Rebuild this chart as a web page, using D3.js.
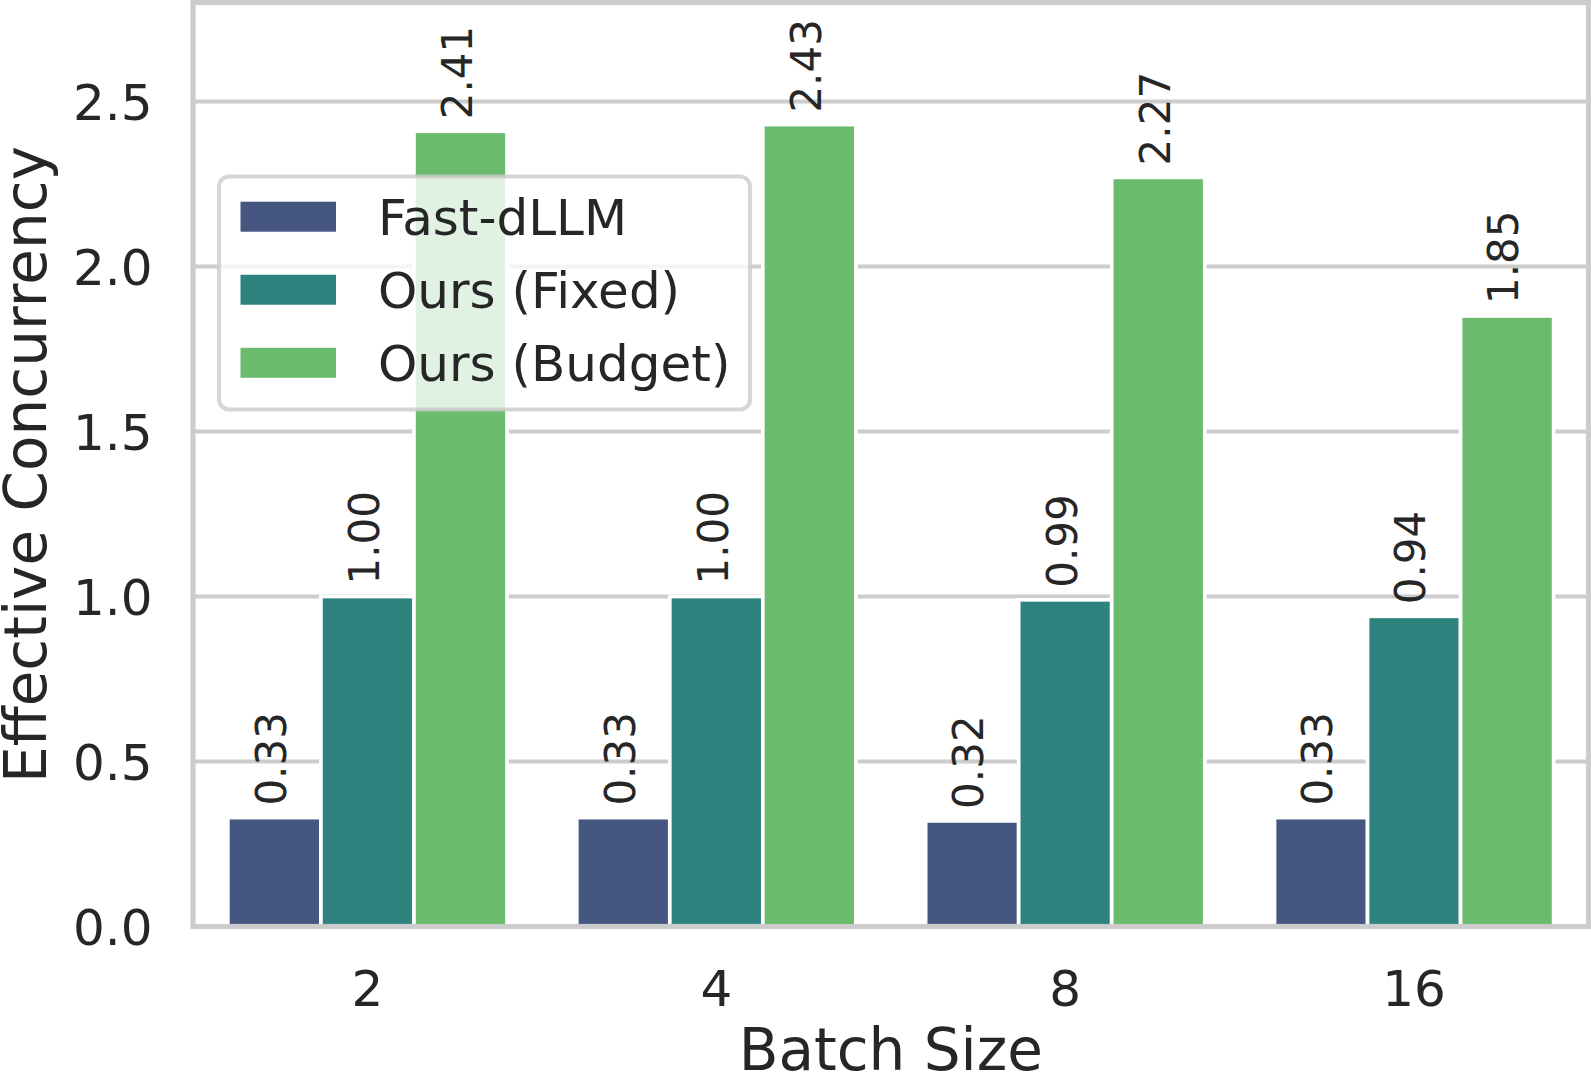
<!DOCTYPE html>
<html>
<head>
<meta charset="utf-8">
<script src="https://cdn.jsdelivr.net/npm/d3@7"></script>
<style>
  body { margin: 0; background: #fff; }
  svg text { font-family: "DejaVu Sans", sans-serif; fill: #262626; }
</style>
</head>
<body>
<svg id="chart" width="1591" height="1077"></svg>
<script>
// values
const batchSizes = ["2", "4", "8", "16"];
const seriesNames = ["Fast-dLLM", "Ours (Fixed)", "Ours (Budget)"];
const fastDllm = [0.33, 0.33, 0.32, 0.33];
const oursFixed = [1.00, 1.00, 0.99, 0.94];
const oursBudget = [2.41, 2.43, 2.27, 1.85];
const yTicks = [0, 0.5, 1.0, 1.5, 2.0, 2.5];
const palette = ["#455681", "#2f837f", "#6bbb6e"];

const seriesValues = [fastDllm, oursFixed, oursBudget];

const svg = d3.select("#chart");
const plot = { left: 193, right: 1588.5, top: 2.5, bottom: 926.5 };

let y = d3.scaleLinear().domain([0, 2.8]).range([plot.bottom, plot.top]);
let x = d3.scaleBand().domain(batchSizes)
    .range([plot.left, plot.right])
    .paddingInner(0.2).paddingOuter(0.1);
let xInner = d3.scaleBand().domain(seriesNames).range([0, x.bandwidth()]);
let color = d3.scaleOrdinal().domain(seriesNames).range(palette);

// horizontal grid
svg.append("g")
    .selectAll("line")
    .data(yTicks)
    .enter().append("line")
    .attr("x1", plot.left).attr("x2", plot.right)
    .attr("y1", d => y(d)).attr("y2", d => y(d))
    .attr("stroke", "#cccccc")
    .attr("stroke-width", 4.2);

// flatten to one record per bar
let bars = [];
seriesNames.forEach((s, si) => {
    batchSizes.forEach((b, bi) => {
        bars.push({ series: s, batch: b, value: seriesValues[si][bi] });
    });
});

svg.append("g")
    .selectAll("rect")
    .data(bars)
    .enter().append("rect")
    .attr("x", d => x(d.batch) + xInner(d.series))
    .attr("y", d => y(d.value))
    .attr("width", xInner.bandwidth())
    .attr("height", d => y(0) - y(d.value))
    .attr("fill", d => color(d.series))
    .attr("stroke", "white")
    .attr("stroke-width", 3.7);

// value labels, rotated
const labelSize = 42;
svg.append("g")
    .selectAll("text")
    .data(bars)
    .enter().append("text")
    .attr("transform", d => {
        let cx = x(d.batch) + xInner(d.series) + xInner.bandwidth() / 2;
        return "translate(" + cx + "," + (y(d.value) - 12) + ") rotate(-90)";
    })
    .attr("dy", (labelSize * 0.365 - 4) + "px")
    .attr("text-anchor", "start")
    .style("font-size", labelSize + "px")
    .text(d => d.value.toFixed(2));

// axes (labels only, seaborn whitegrid has no tick marks)
let yAxis = svg.append("g")
    .attr("transform", "translate(" + plot.left + ",0)")
    .call(d3.axisLeft(y).tickValues(yTicks).tickSize(0).tickPadding(40.5)
        .tickFormat(d3.format(".1f")));
yAxis.select(".domain").remove();
yAxis.selectAll("text")
    .attr("dy", "0.36em")
    .style("font-size", "50px")
    .style("font-family", "DejaVu Sans")
    .attr("fill", "#262626");

let xAxis = svg.append("g")
    .attr("transform", "translate(0," + plot.bottom + ")")
    .call(d3.axisBottom(x).tickSize(0));
xAxis.select(".domain").remove();
xAxis.selectAll("text")
    .attr("y", 79)
    .attr("dy", 0)
    .style("font-size", "50px")
    .style("font-family", "DejaVu Sans")
    .attr("fill", "#262626");

// frame
svg.append("rect")
    .attr("x", plot.left).attr("y", plot.top)
    .attr("width", plot.right - plot.left)
    .attr("height", plot.bottom - plot.top)
    .attr("fill", "none")
    .attr("stroke", "#cccccc")
    .attr("stroke-width", 5.2);

// axis titles
svg.append("text")
    .attr("x", (plot.left + plot.right) / 2)
    .attr("y", 1070)
    .attr("text-anchor", "middle")
    .style("font-size", "58px")
    .text("Batch Size");

svg.append("text")
    .attr("transform", "translate(45.5," + (plot.top + plot.bottom) / 2 + ") rotate(-90)")
    .attr("text-anchor", "middle")
    .style("font-size", "58px")
    .text("Effective Concurrency");

// legend
let legend = svg.append("g");
legend.append("rect")
    .attr("x", 219).attr("y", 176.5)
    .attr("width", 531).attr("height", 233)
    .attr("rx", 10).attr("ry", 10)
    .attr("fill", "white").attr("fill-opacity", 0.8)
    .attr("stroke", "#cccccc").attr("stroke-opacity", 0.8)
    .attr("stroke-width", 4.2);

let rowY = d3.scalePoint().domain(seriesNames).range([216.7, 362.8]);
let items = legend.selectAll(".item")
    .data(seriesNames)
    .enter().append("g")
    .attr("class", "item")
    .attr("transform", d => "translate(0," + rowY(d) + ")");
items.append("rect")
    .attr("x", 240.5).attr("y", -15)
    .attr("width", 95.5).attr("height", 30)
    .attr("fill", d => color(d));
items.append("text")
    .attr("x", 378)
    .attr("dy", "0.365em")
    .style("font-size", "50px")
    .text(d => d);
</script>
</body>
</html>
